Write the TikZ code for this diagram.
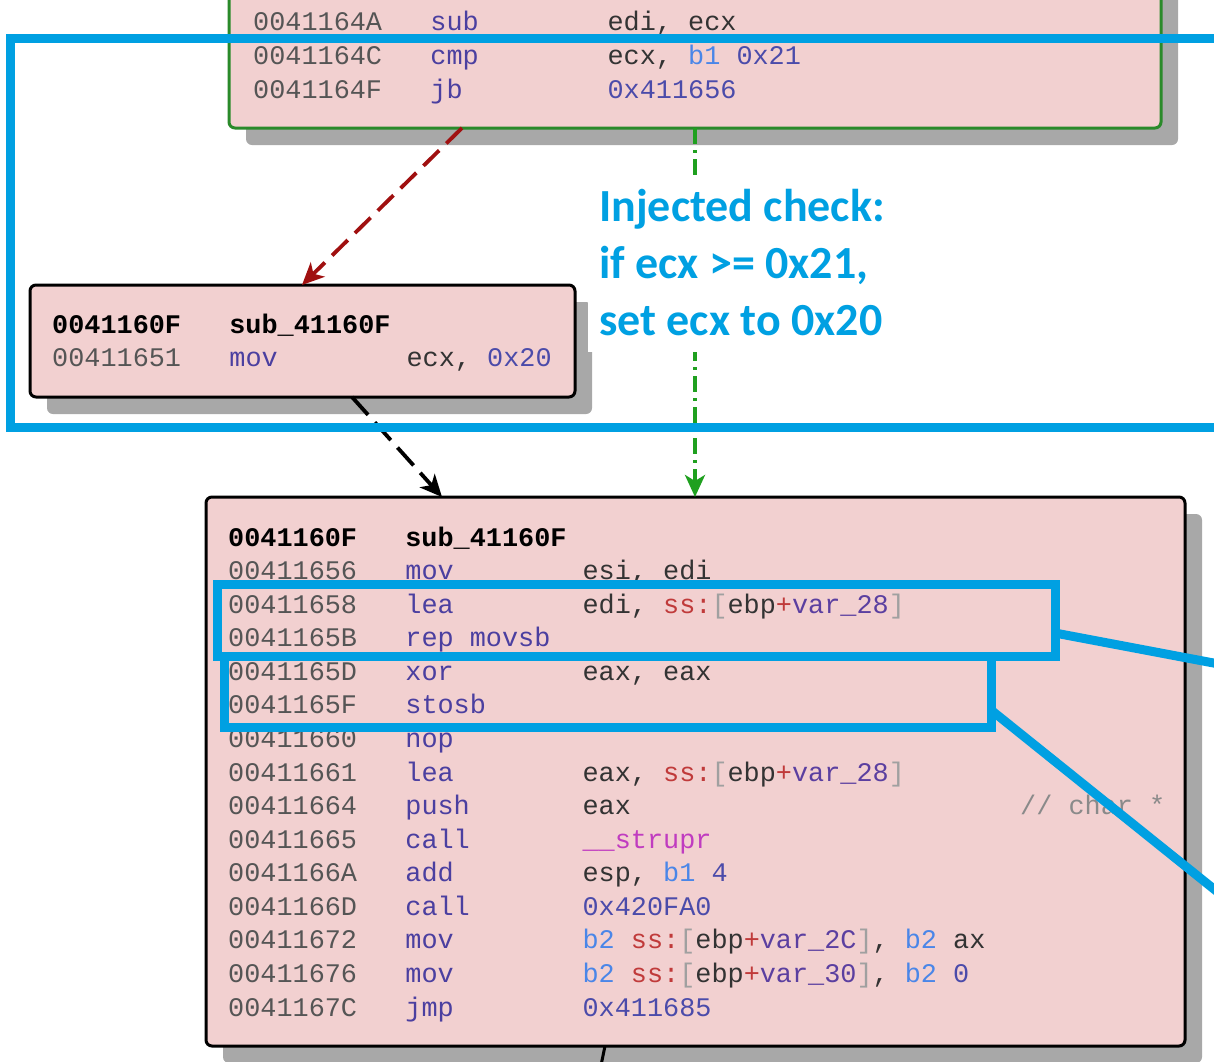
\documentclass[tikz,border=0pt]{standalone}
\usepackage{fontspec}
\setmonofont{Liberation Mono}
\newfontfamily\notefont{Carlito}
\usetikzlibrary{arrows.meta,shadows}

\definecolor{codebg}{HTML}{F2D0D0}
\definecolor{shade}{HTML}{A8A8A8}
\definecolor{hlblue}{HTML}{00A0E2}
\definecolor{topgreen}{HTML}{2A8A2A}
\definecolor{flowgreen}{HTML}{1FA01F}
\definecolor{flowred}{HTML}{A01010}
\definecolor{addrc}{HTML}{555555}
\definecolor{mnemc}{HTML}{4B3FA0}
\definecolor{regc}{HTML}{333333}
\definecolor{numc}{HTML}{4B4BAA}
\definecolor{bytec}{HTML}{4A86E8}
\definecolor{segc}{HTML}{C03A3A}
\definecolor{brkc}{HTML}{A0A0A0}
\definecolor{varc}{HTML}{5B3FA0}
\definecolor{fnc}{HTML}{C03CC0}
\definecolor{cmtc}{HTML}{8A8A8A}

\newcommand\codefont{\ttfamily\fontsize{26.85}{30}\selectfont}
% one disassembly line: address, mnemonic, operands in 11-character columns
\newcommand\asmln[3]{\makebox[6.6em][l]{\textcolor{addrc}{#1}}\makebox[6.6em][l]{\textcolor{mnemc}{#2}}#3}
\newcommand\asmhd[2]{\textbf{\makebox[6.6em][l]{#1}#2}}
\newcommand\opn[1]{\textcolor{numc}{#1}}
\newcommand\opb[1]{\textcolor{bytec}{#1}}
\newcommand\opk[1]{\textcolor{segc}{#1}}
\newcommand\opq[1]{\textcolor{brkc}{#1}}
\newcommand\opv[1]{\textcolor{varc}{#1}}
\newcommand\opf[1]{\textcolor{fnc}{#1}}
\newcommand\memref[1]{\opk{ss:}\opq{[}ebp\opk{+}\opv{var\_#1}\opq{]}}

\begin{document}
\begin{tikzpicture}[x=1pt,y=-1pt,
  blk/.style={rounded corners=6pt, line width=3pt, fill=codebg, outer sep=0pt, inner sep=0pt,
    drop shadow={shadow xshift=17pt, shadow yshift=-17pt, fill=shade, opacity=1}},
  code/.style={font=\codefont, anchor=base west, inner sep=0pt, text=regc},
  note/.style={font=\notefont\bfseries\fontsize{46}{57}\selectfont, text=hlblue, anchor=base west, inner sep=0pt},
  flow/.style={line width=3.8pt, -{Stealth[length=22pt, width=20pt, inset=6pt]}},
  hlbox/.style={draw=hlblue, line width=9pt, outer sep=0pt, inner sep=0pt},
  hlline/.style={draw=hlblue, line width=9pt}
]
\useasboundingbox (0,0) rectangle (1214,1061);
\clip (0,0) rectangle (1214,1061);
\fill[white] (0,0) rectangle (1214,1061);

% basic blocks
\node[blk, draw=topgreen, minimum width=932pt, minimum height=158pt, anchor=south west] (top) at (229,128) {};
\node[blk, draw=black, minimum width=545pt, minimum height=112pt, anchor=north west] (left) at (30,285) {};
\node[blk, draw=black, minimum width=979pt, minimum height=549pt, anchor=north west] (main) at (206,497) {};

% upper block
\node[code] (t1) at (253,30) {\asmln{0041164A}{sub}{edi, ecx}};
\node[code] (t2) at (253,64) {\asmln{0041164C}{cmp}{ecx, \opb{b1} \opn{0x21}}};
\node[code] (t3) at (253,98) {\asmln{0041164F}{jb}{\opn{0x411656}}};

% injected block
\node[code, text=black] (l0) at (52,333) {\asmhd{0041160F}{sub\_41160F}};
\node[code] (l1) at (52,366) {\asmln{00411651}{mov}{ecx, \opn{0x20}}};

% main block
\foreach \t [count=\i from 0] in {
  {\textcolor{black}{\asmhd{0041160F}{sub\_41160F}}},
  {\asmln{00411656}{mov}{esi, edi}},
  {\asmln{00411658}{lea}{edi, \memref{28}}},
  {\asmln{0041165B}{rep movsb}{}},
  {\asmln{0041165D}{xor}{eax, eax}},
  {\asmln{0041165F}{stosb}{}},
  {\asmln{00411660}{nop}{}},
  {\asmln{00411661}{lea}{eax, \memref{28}}},
  {\asmln{00411664}{push}{eax}},
  {\asmln{00411665}{call}{\opf{\_\_strupr}}},
  {\asmln{0041166A}{add}{esp, \opb{b1} \opn{4}}},
  {\asmln{0041166D}{call}{\opn{0x420FA0}}},
  {\asmln{00411672}{mov}{\opb{b2} \memref{2C}, \opb{b2} ax}},
  {\asmln{00411676}{mov}{\opb{b2} \memref{30}, \opb{b2} \opn{0}}},
  {\asmln{0041167C}{jmp}{\opn{0x411685}}}
}{
  \node[code] (m\i) at (228, 546+33.57*\i) {\t};
}
\node[code, text=cmtc] (cmt) at (1020,814.6) {// char *};

% control flow
\coordinate (exit) at (599,1075);
\draw[flow, flowred, dash pattern=on 22pt off 10pt] (462,0 |- top.south) -- (302,0 |- left.north);
\draw[flow, black, dash pattern=on 24pt off 10pt] (352,0 |- left.south) -- (442,0 |- main.north);
\draw[flow, flowgreen, dash pattern=on 16pt off 6pt on 3pt off 6pt] (695,0 |- top.south) -- (695,0 |- main.north);
\draw[line width=3pt, black] (605,0 |- main.south) -- (exit);

% annotation
\fill[white] (588,180) rectangle (900,352);
\node[note] (n1) at (599,221) {Injected check:};
\node[note] (n2) at (599,278) {if ecx >= 0x21,};
\node[note] (n3) at (599,335) {set ecx to 0x20};

% highlight frames
\node[hlbox, minimum width=1230pt, minimum height=389pt, anchor=north west] (frame) at (10,38) {};
\node[hlbox, minimum width=838pt, minimum height=72pt, anchor=north west] (hl1) at (217,584) {};
\node[hlbox, minimum width=767pt, minimum height=71pt, anchor=north west] (hl2) at (224,656) {};
\coordinate (out1) at (1240,668);
\coordinate (out2) at (1240,910);
\draw[hlline] (hl1.east |- 0,633) -- (out1);
\draw[hlline] (hl2.east |- 0,710) -- (out2);
\end{tikzpicture}
\end{document}
